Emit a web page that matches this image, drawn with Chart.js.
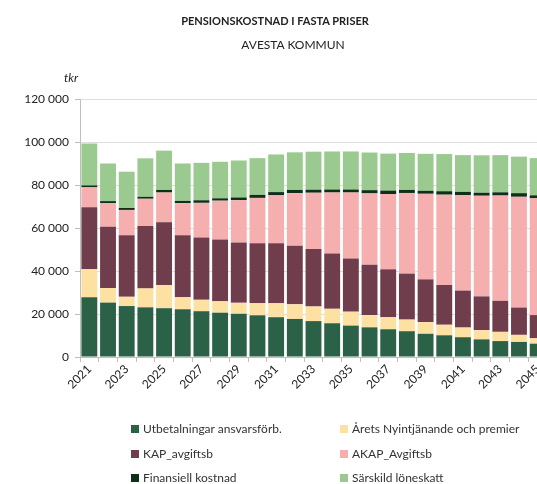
<!DOCTYPE html>
<html>
<head>
<meta charset="utf-8">
<script src="https://cdn.jsdelivr.net/npm/chart.js@4.4.0/dist/chart.umd.min.js"></script>
<style>
  body { margin: 0; overflow: hidden; background: #fff; font-family: Lato, "Open Sans", sans-serif; }
  #wrap { position: relative; width: 537px; height: 484px; overflow: hidden; }
  #chart { position: absolute; left: 0; top: 0; }
  .txt { position: absolute; color: #222; white-space: nowrap; }
  #legend { position: absolute; left: 0; top: 0; font-size: 12px; color: #333; }
  .item { position: absolute; white-space: nowrap; }
  .item span { display: inline-block; width: 8px; height: 8px; margin-right: 4px; }
</style>
</head>
<body>
<div id="wrap">
  <canvas id="chart" width="580" height="484"></canvas>
  <div class="txt" style="left:0;width:550px;text-align:center;top:14px;font-size:11px;font-weight:bold;">PENSIONSKOSTNAD I FASTA PRISER</div>
  <div class="txt" style="left:0;width:586px;text-align:center;top:37px;font-size:12px;">AVESTA KOMMUN</div>
  <div class="txt" style="left:64px;top:70px;font-size:12px;font-style:italic;">tkr</div>
  <div id="legend"></div>
</div>
<script>
// Pensionskostnad i fasta priser, tkr
const years = ['2021', '2022', '2023', '2024', '2025', '2026', '2027', '2028', '2029', '2030',
    '2031', '2032', '2033', '2034', '2035', '2036', '2037', '2038', '2039', '2040',
    '2041', '2042', '2043', '2044', '2045'];

const utbetalningar = [27800, 25300, 23700, 23100, 22700, 22200, 21300, 20600, 20100, 19400,
    18500, 17700, 16700, 15700, 14600, 13800, 12900, 12000, 10800, 10100,
    9200, 8200, 7400, 7000, 6200];
const aretsNyintjanande = [13000, 6800, 4300, 8800, 10800, 5600, 5300, 5300, 5100, 5600,
    6500, 6800, 6800, 6700, 6500, 5700, 5600, 5400, 5400, 4900,
    4500, 4300, 4300, 3300, 2500];
const kap = [28800, 28500, 28600, 29000, 29200, 28800, 29000, 28800, 28100, 27900,
    27900, 27300, 26700, 25700, 24700, 23400, 22300, 21400, 19900, 18500,
    17200, 15700, 14400, 12700, 10800];
const akap = [9300, 11000, 11800, 12700, 13800, 15000, 16100, 18000, 19700, 21100,
    22300, 24400, 26200, 28400, 30700, 33200, 35000, 37500, 39800, 42000,
    44400, 46800, 49000, 51500, 54300];
const finansiell = [900, 900, 900, 900, 1200, 1000, 1200, 1100, 1200, 1400,
    1500, 1500, 1400, 1400, 1400, 1500, 1600, 1400, 1400, 1600,
    1500, 1400, 1500, 1700, 1400];
const sarskild = [19500, 17500, 16900, 17900, 18300, 17400, 17400, 17000, 17200, 17100,
    17500, 17500, 17700, 17700, 17700, 17500, 17200, 17200, 17200, 17300,
    17100, 17400, 17300, 17000, 17300];

const yTicks = [0, 20000, 40000, 60000, 80000, 100000, 120000];

const fmt = v => v.toString().replace(/\B(?=(\d{3})+(?!\d))/g, ' ');

const ctx = document.querySelector('#chart').getContext('2d');
const chart = new Chart(ctx, {
    type: 'bar',
    data: {
        labels: years,
        datasets: [
            { label: 'Utbetalningar ansvarsförb.', data: utbetalningar, backgroundColor: '#2b6147' },
            { label: 'Årets Nyintjänande och premier', data: aretsNyintjanande, backgroundColor: '#fde1a3' },
            { label: 'KAP_avgiftsb', data: kap, backgroundColor: '#6f3d4c' },
            { label: 'AKAP_Avgiftsb', data: akap, backgroundColor: '#f5afae' },
            { label: 'Finansiell kostnad', data: finansiell, backgroundColor: '#0e3019' },
            { label: 'Särskild löneskatt', data: sarskild, backgroundColor: '#9aca8f' }
        ]
    },
    options: {
        responsive: false,
        animation: false,
        layout: { padding: { top: 99, right: 33, left: 0, bottom: 0 } },
        datasets: { bar: { categoryPercentage: 1, barPercentage: 0.85, borderWidth: 0 } },
        plugins: {
            legend: { display: false },
            tooltip: { enabled: false }
        },
        scales: {
            x: {
                stacked: true,
                afterFit: s => { s.height = 127; },
                grid: { drawOnChartArea: false, offset: true, tickLength: 5, color: '#bfbfbf' },
                border: { color: '#bfbfbf' },
                ticks: {
                    autoSkip: false,
                    maxRotation: 45,
                    minRotation: 45,
                    padding: 0,
                    color: '#222',
                    font: { family: 'Lato', size: 12 },
                    callback: (v, i) => i % 2 === 0 ? years[i] : ''
                }
            },
            y: {
                stacked: true,
                min: 0,
                max: 120000,
                afterFit: s => { s.width = 80; },
                afterBuildTicks: s => { s.ticks = yTicks.map(v => ({ value: v })); },
                grid: { color: '#dedede', tickLength: 5, tickColor: '#bfbfbf' },
                border: { color: '#bfbfbf' },
                ticks: {
                    padding: 6,
                    color: '#222',
                    font: { family: 'Lato', size: 12 },
                    callback: v => fmt(v)
                }
            }
        }
    }
});

// legend in two columns, built from the datasets
const legendPos = [[131, 421], [340, 421], [131, 446], [340, 446], [131, 470], [340, 470]];
const legend = document.querySelector('#legend');
chart.data.datasets.forEach((ds, i) => {
    const el = document.createElement('div');
    el.className = 'item';
    el.style.left = legendPos[i][0] + 'px';
    el.style.top = legendPos[i][1] + 'px';
    el.innerHTML = '<span style="background:' + ds.backgroundColor + '"></span>' + ds.label;
    legend.appendChild(el);
});
</script>
</body>
</html>
